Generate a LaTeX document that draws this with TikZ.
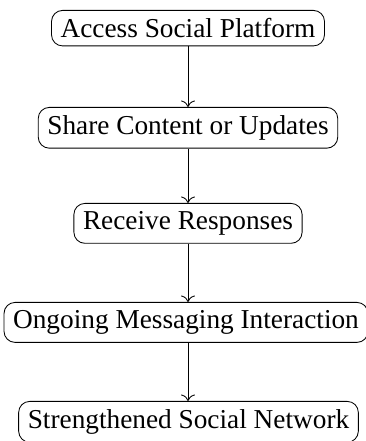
\documentclass[tikz,border=0pt]{standalone}
\usepackage{fontspec}
\setmainfont{Liberation Serif}
\usetikzlibrary{arrows.meta}
\begin{document}
\begin{tikzpicture}[x=1pt,y=1pt,
  stepbox/.style={draw, rounded corners=11pt, line width=0.85pt, inner xsep=9.1pt,
    inner ysep=8pt, font=\fontsize{27.3}{32}\selectfont, anchor=north},
  flow/.style={-{To[length=6.5pt,width=14pt]}, line width=0.85pt}]
  \useasboundingbox (0,0) rectangle (366,441);
  \node[stepbox] (n1) at (188,431) {Access Social Platform};
  \node[stepbox] (n2) at (188,334) {Share Content or Updates};
  \node[stepbox] (n3) at (188,238) {Receive Responses};
  \node[stepbox] (n4) at (186,139) {Ongoing Messaging Interaction};
  \node[stepbox] (n5) at (188.5,40) {Strengthened Social Network};
  \draw[flow] (n1.south) -- (n2.north);
  \draw[flow] (n2.south) -- (n3.north);
  \draw[flow] (n3.south) -- (n3.south |- n4.north);
  \draw[flow] (n4.south -| n3.south) -- (n3.south |- n5.north);
\end{tikzpicture}
\end{document}
